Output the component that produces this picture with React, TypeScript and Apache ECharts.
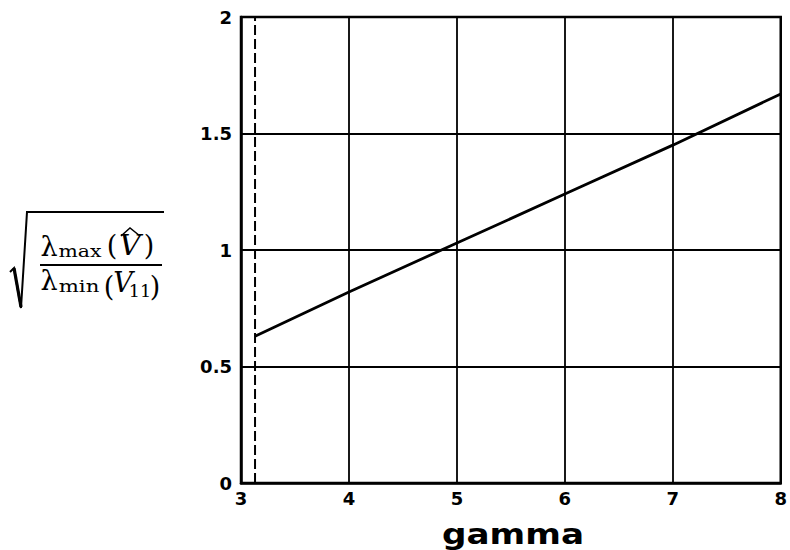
import React, { useEffect, useRef } from "react";
import * as echarts from "echarts";

// gamma values and the corresponding ratio sqrt(lambda_max(V^)/lambda_min(V11))
const gamma = [3.13, 4, 5, 6, 7, 8];
const ratio = [0.63, 0.82, 1.03, 1.24, 1.45, 1.67];
// lower bound on gamma, drawn as a dashed vertical line
const gammaMin = 3.13;
const yRange = [0, 2];
const xRange = [3, 8];

const SERIF = "DejaVu Serif";
const SANS = "DejaVu Sans";

function txt(
  text: string,
  x: number,
  y: number,
  size: number,
  opts: { italic?: boolean; scaleX?: number } = {}
) {
  return {
    type: "text",
    x,
    y,
    scaleX: opts.scaleX ?? 1,
    silent: true,
    style: {
      text,
      fontSize: size,
      fontFamily: SERIF,
      fontStyle: opts.italic ? "italic" : "normal",
      fill: "#000",
      align: "center",
      verticalAlign: "middle",
      textAlign: "center",
      textVerticalAlign: "middle",
    },
  };
}

function line(x1: number, y1: number, x2: number, y2: number, w: number) {
  return {
    type: "line",
    silent: true,
    shape: { x1, y1, x2, y2 },
    style: { stroke: "#000", lineWidth: w },
  };
}

export default function App() {
  const ref = useRef<HTMLDivElement>(null);

  useEffect(() => {
    if (!ref.current) return;
    const chart = echarts.init(ref.current, null, { renderer: "svg" });

    const tickFont = {
      color: "#000",
      fontFamily: SANS,
      fontWeight: "bold" as const,
      fontSize: 18,
    };

    // y-axis quantity: sqrt of a fraction of eigenvalues
    const formula = [
      // radical sign
      {
        type: "polyline",
        silent: true,
        shape: { points: [[10, 272], [14, 268], [21, 308], [27, 212], [164, 212]] },
        style: { stroke: "#000", lineWidth: 2, fill: null },
      },
      line(14, 268, 21, 307, 3.2),
      // fraction bar
      line(40, 265, 162, 265, 2),
      // numerator: lambda_max(V^)
      txt("λ", 49, 246, 27),
      txt("max", 80, 251, 17, { scaleX: 1.2 }),
      txt("(", 112, 245, 27),
      txt("V", 130, 246, 27, { italic: true, scaleX: 1.1 }),
      {
        type: "polyline",
        silent: true,
        shape: { points: [[121, 236], [130, 228], [140, 236]] },
        style: { stroke: "#000", lineWidth: 1.5, fill: null },
      },
      txt(")", 149, 245, 27),
      // denominator: lambda_min(V11)
      txt("λ", 49, 280, 27),
      txt("min", 79, 286, 17, { scaleX: 1.25 }),
      txt("(", 109, 286, 27),
      txt("V", 123, 282, 27, { italic: true }),
      txt("11", 140, 291, 16, { scaleX: 1.1 }),
      txt(")", 155, 286, 27),
    ];

    chart.setOption({
      animation: false,
      backgroundColor: "#fff",
      grid: {
        left: 241,
        right: 2,
        top: 17,
        bottom: 67,
        show: true,
        borderColor: "#000",
        borderWidth: 2.5,
        backgroundColor: "transparent",
      },
      xAxis: {
        type: "value",
        min: xRange[0],
        max: xRange[1],
        interval: 1,
        axisLine: { show: true, lineStyle: { color: "#000", width: 2.5 } },
        axisTick: { show: false },
        axisLabel: { ...tickFont, margin: 6, showMaxLabel: true, showMinLabel: true },
        splitLine: { show: true, lineStyle: { color: "#000", width: 1.8 } },
      },
      yAxis: {
        type: "value",
        min: yRange[0],
        max: yRange[1],
        interval: 0.5,
        axisLine: { show: true, lineStyle: { color: "#000", width: 2.5 } },
        axisTick: { show: false },
        axisLabel: { ...tickFont, margin: 9 },
        splitLine: { show: true, lineStyle: { color: "#000", width: 1.8 } },
      },
      series: [
        {
          type: "line",
          data: gamma.map((g, i) => [g, ratio[i]]),
          showSymbol: false,
          symbol: "none",
          lineStyle: { color: "#000", width: 2.8 },
          z: 5,
        },
        {
          type: "line",
          data: [
            [gammaMin, yRange[0]],
            [gammaMin, yRange[1]],
          ],
          showSymbol: false,
          symbol: "none",
          lineStyle: { color: "#000", width: 2, type: [10, 4] },
          z: 4,
        },
      ],
      graphic: [
        ...formula,
        {
          type: "text",
          x: 513,
          y: 534,
          scaleX: 1.18,
          silent: true,
          style: {
            text: "gamma",
            fontSize: 29,
            fontFamily: SANS,
            fontWeight: "bold",
            fill: "#000",
            align: "center",
            verticalAlign: "middle",
            textAlign: "center",
            textVerticalAlign: "middle",
          },
        },
      ],
    });

    return () => chart.dispose();
  }, []);

  return (
    <div
      ref={ref}
      style={{ position: "fixed", left: 0, top: 0, width: 790, height: 550 }}
    />
  );
}
